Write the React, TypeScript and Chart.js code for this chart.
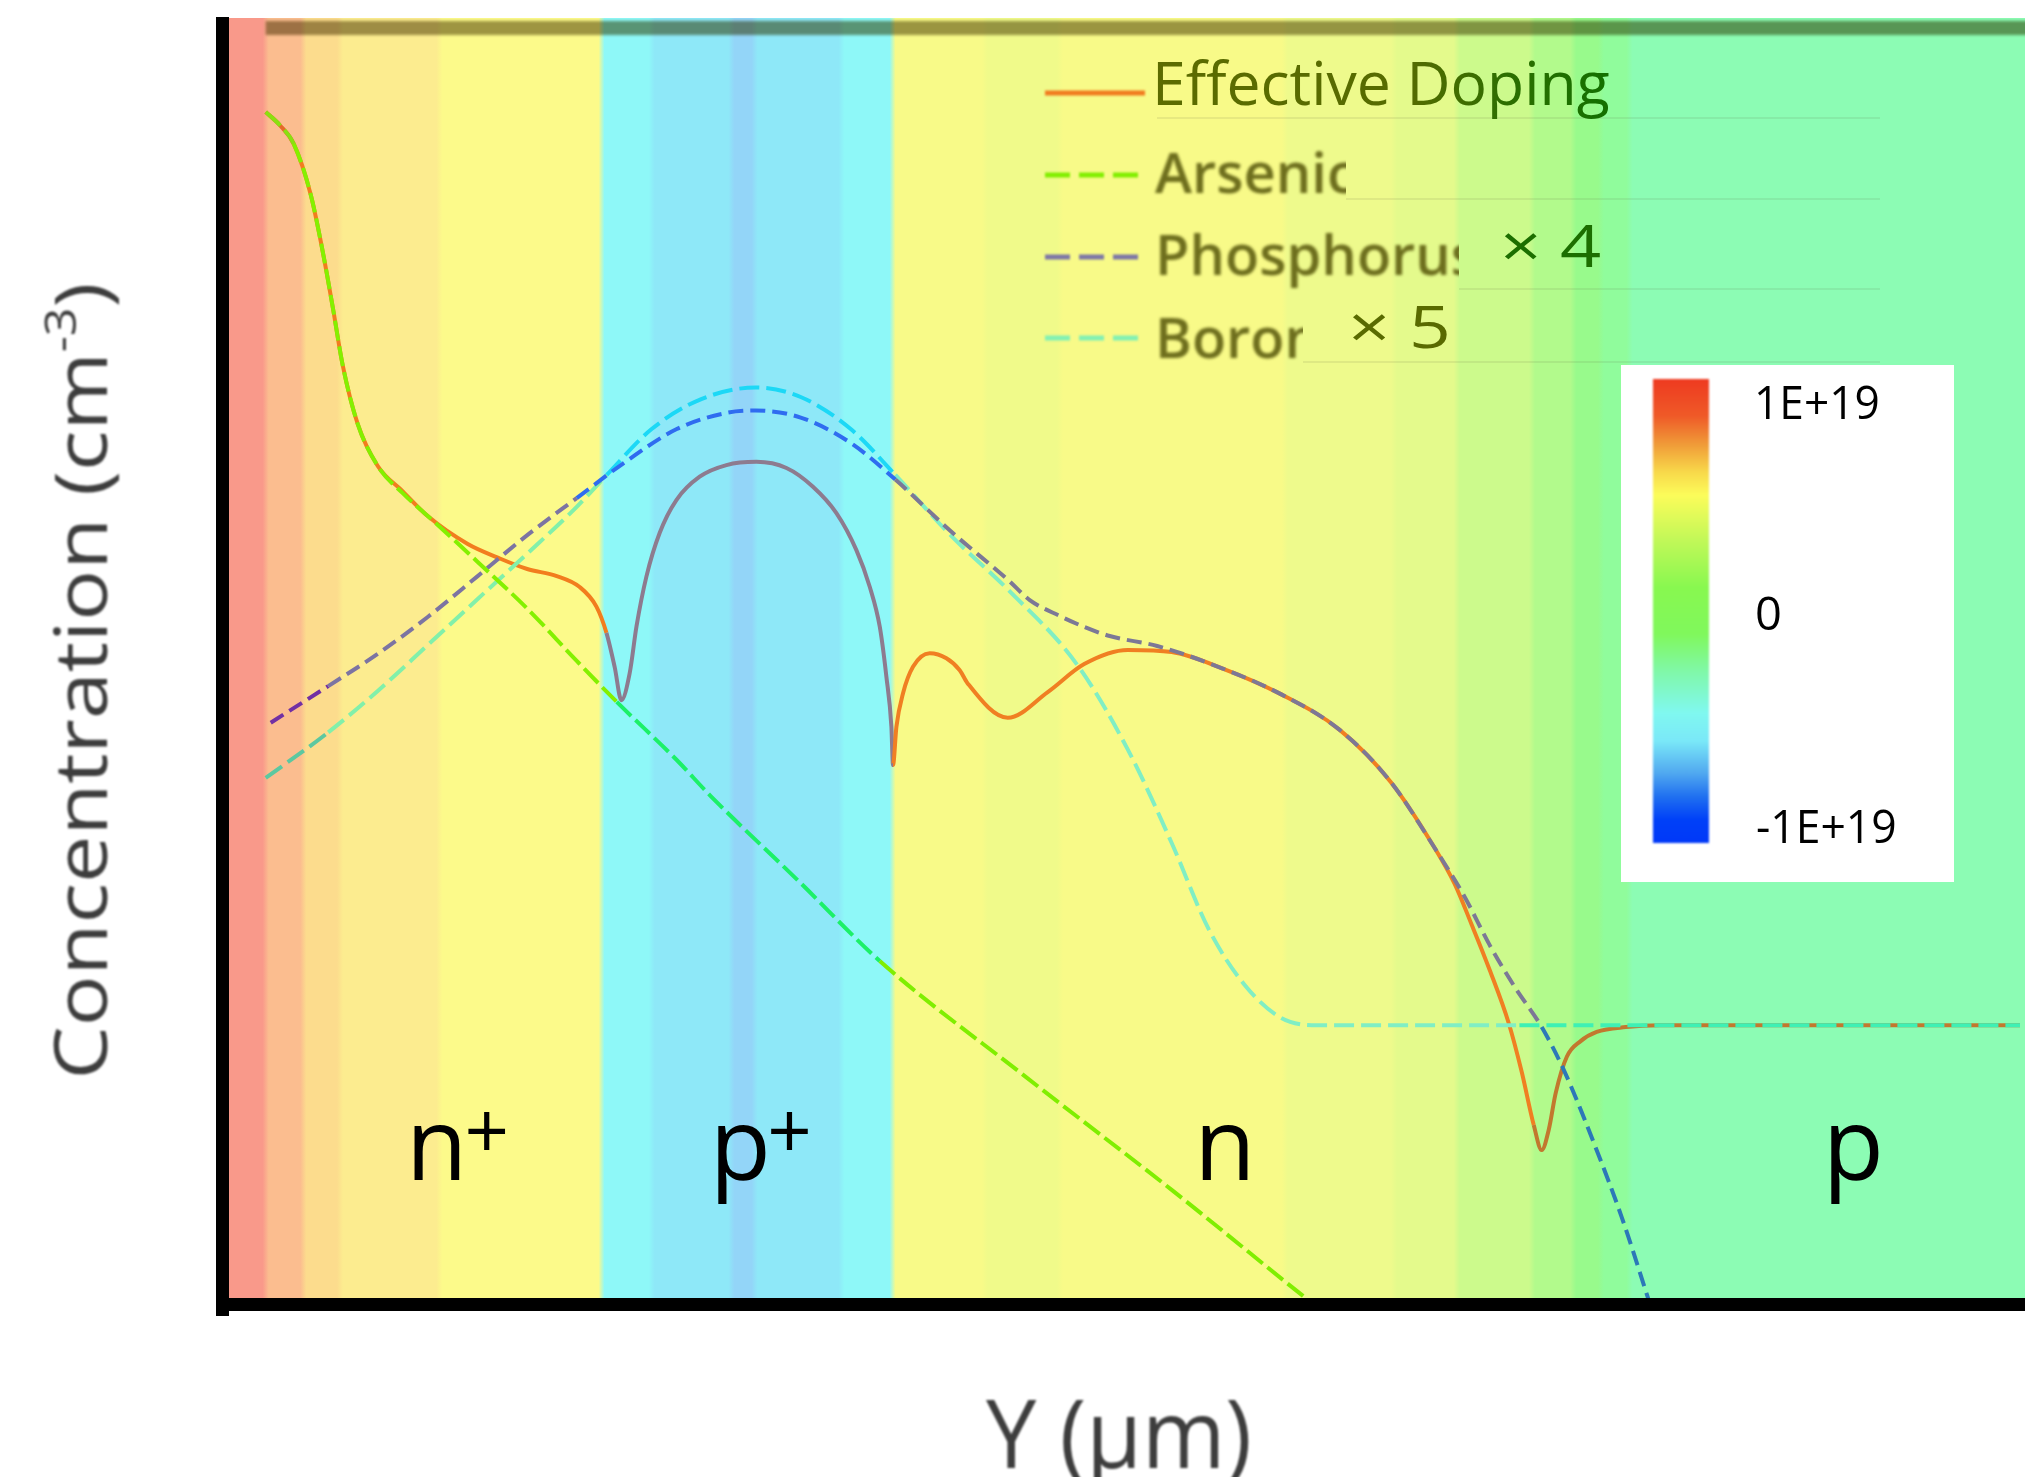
import { useEffect, useRef } from "react";
import { Chart, registerables } from "chart.js";

Chart.register(...registerables);

const FONT = '"Open Sans", "DejaVu Sans", Arial, sans-serif';

// ---- doping profiles: depth Y (µm) and concentration (cm^-3) ----
const effectiveDepth = [
  0, 0.0156, 0.0313, 0.0503, 0.0642, 0.0754, 0.086, 0.1027, 0.1251, 0.153,
  0.1809, 0.2256, 0.2591, 0.292, 0.325, 0.3506, 0.3693, 0.3805, 0.3897, 0.3972,
  0.4065, 0.414, 0.4251, 0.44, 0.4586, 0.4846, 0.5145, 0.548, 0.5815, 0.6108,
  0.6373, 0.6596, 0.6745, 0.6857, 0.6931, 0.6987, 0.7005, 0.7043, 0.7117, 0.7228,
  0.7415, 0.7601, 0.775, 0.7835, 0.8286, 0.8733, 0.914, 0.9626, 1.0117, 1.0687,
  1.1341, 1.1993, 1.2563, 1.3054, 1.3277, 1.3467, 1.3668, 1.388, 1.4026, 1.416,
  1.4249, 1.4327, 1.4405, 1.4528, 1.4684, 1.4863, 1.5187, 1.5567, 1.7, 1.959,
];
const effectiveConc = [
  3.06e20, 2.6e20, 2.05e20, 1.08e20, 5.12e19, 2.53e19, 1.26e19, 6.03e18, 3.55e18, 2.58e18,
  1.89e18, 1.33e18, 1.12e18, 9.7e17, 8.87e17, 7.73e17, 6.04e17, 4.34e17, 2.82e17, 1.86e17,
  2.62e17, 4.69e17, 8.81e17, 1.53e18, 2.31e18, 3.1e18, 3.59e18, 3.74e18, 3.46e18, 2.74e18,
  1.96e18, 1.23e18, 7.76e17, 4.69e17, 2.5e17, 1.33e17, 8.22e16, 1.33e17, 2.03e17, 2.83e17,
  3.36e17, 3.15e17, 2.71e17, 2.31e17, 1.49e17, 2.06e17, 2.93e17, 3.5e17, 3.41e17, 2.77e17,
  2.0e17, 1.28e17, 6.64e16, 2.89e16, 1.84e16, 1.1e16, 6.22e15, 3.19e15, 1.72e15, 8.83e14,
  6.44e14, 8.3e14, 1.32e15, 2.08e15, 2.54e15, 2.85e15, 3.03e15, 3.1e15, 3.1e15, 3.1e15,
];

const arsenicDepth = [
  0, 0.0156, 0.0313, 0.0503, 0.0642, 0.0754, 0.086, 0.1027, 0.1251, 0.153, 0.1921, 0.2367,
  0.2915, 0.3473, 0.392, 0.459, 0.4969, 0.5963, 0.6857, 0.8487, 1.0117, 1.158, 1.1993,
];
const arsenicConc = [
  3.06e20, 2.6e20, 2.05e20, 1.08e20, 5.12e19, 2.53e19, 1.26e19, 6.03e18, 3.55e18, 2.52e18, 1.69e18, 1.06e18,
  5.93e17, 3.05e17, 1.82e17, 8.75e16, 5.56e16, 1.88e16, 6.97e15, 1.62e15, 3.9e14, 1.03e14, 7.15e13,
];

const phosphorusDepth = [
  0.0056, 0.0698, 0.1251, 0.1809, 0.2367, 0.2931, 0.3473, 0.4031, 0.459, 0.5142, 0.5472, 0.5974,
  0.6533, 0.7031, 0.7638, 0.8297, 0.8532, 0.8867, 0.914, 0.9425, 0.9955, 1.0687, 1.1341, 1.1993,
  1.2563, 1.3054, 1.3389, 1.3668, 1.3948, 1.4249, 1.4495, 1.4863, 1.5142, 1.5433, 1.5589,
];
const phosphorusConc = [
  1.4e17, 2.22e17, 3.33e17, 5.3e17, 8.87e17, 1.5e18, 2.37e18, 3.78e18, 5.65e18, 6.92e18, 7.13e18, 6.53e18,
  4.74e18, 2.99e18, 1.58e18, 8.39e17, 6.56e17, 5.37e17, 4.68e17, 4.17e17, 3.68e17, 2.77e17, 2.0e17, 1.28e17,
  6.64e16, 2.89e16, 1.56e16, 8.51e15, 5.02e15, 3.03e15, 1.77e15, 6.43e14, 2.77e14, 1.01e14, 5.74e13,
];

const boronDepth = [
  0, 0.0698, 0.1251, 0.1809, 0.2367, 0.2931, 0.3473, 0.3808, 0.431, 0.4864, 0.5472, 0.5974, 0.6533,
  0.7031, 0.7638, 0.8297, 0.9056, 0.9626, 1.0117, 1.0526, 1.0932, 1.1341, 1.1748, 1.4, 1.7, 1.959,
];
const boronConc = [
  6.98e16, 1.24e17, 2.09e17, 3.72e17, 6.65e17, 1.19e18, 2.12e18, 3.17e18, 5.65e18, 8.24e18, 9.53e18, 8.46e18, 5.65e18,
  3.17e18, 1.5e18, 7.41e17, 2.93e17, 1.0e17, 3.08e16, 1.05e16, 5.15e15, 3.4e15, 3.1e15, 3.1e15, 3.1e15, 3.1e15,
];

const seriesLabels = ["Effective Doping", "Arsenic", "Phosphorus", "Boron"];

// net-doping colour bands along Y (µm)
const bandEdges = [
  -0.041, 0.0, 0.042, 0.083, 0.194, 0.375, 0.431, 0.52, 0.546, 0.643, 0.7,
  0.803, 0.887, 1.138, 1.26, 1.33, 1.414, 1.46, 1.491, 1.523, 1.959,
];
const bandColors = [
  "#f9998a", "#fbbd8f", "#fcdc8d", "#fcec8f", "#fcfa8a", "#8ef8f8", "#8ee8f8", "#93d5f8", "#8ee8f8", "#8ef8f8",
  "#f8fa88", "#f0fa8a", "#f8fa88", "#eefa8c", "#e4fa8c", "#ccfa8c", "#b2fa8c", "#98fa8c", "#90fc9c", "#8cfcb4",
];

// zones where the profile lines change tint: surface, n+, p+, n, p
const zoneEdges = [0.038, 0.375, 0.7, 1.414];
const effectiveTints = ["#e46a28", "#f27d1e", "#8d7b8f", "#f07f22", "#c2782e"];
const arsenicTints = ["#8ae010", "#84f000", "#1cf068", "#80ee00", "#60e840"];
const phosphorusTints = ["#7230a4", "#7c74a2", "#2f6cf0", "#7c7896", "#2c78b8"];
const boronTints = ["#5cc8a0", "#82f0aa", "#1cd8f6", "#80eec4", "#3ef0b4"];
const legendTints = ["#f07a1e", "#80ee00", "#7c76a6", "#80f0b4"];

// colour scale of the net doping
const colorbarOffsets = [0, 0.08, 0.14, 0.2, 0.25, 0.35, 0.45, 0.55, 0.63, 0.72, 0.78, 0.85, 0.9, 0.95, 1];
const colorbarColors = [
  "#ee3a20", "#ef5a28", "#f09a38", "#f8d84a", "#fcfc5a", "#c0f858", "#88f850", "#80f85c",
  "#80f8a8", "#80f8f0", "#7ae8f8", "#50a8f0", "#2070f0", "#0040f8", "#0038f8",
];
const colorbarTicks = ["1E+19", "0", "-1E+19"];

const regionNames = ["n", "p", "n", "p"];
const regionMarks = ["+", "+", "", ""];

const points = (xs: number[], ys: number[]) => xs.map((x, i) => ({ x, y: ys[i] }));

const tint = (colors: string[]) => (ctx: any) => {
  const xm = (ctx.p0.parsed.x + ctx.p1.parsed.x) / 2;
  let i = 0;
  while (i < zoneEdges.length && xm > zoneEdges[i]) i++;
  return colors[i];
};

// draws text so that its inked extent spans x0..x1
function fitText(ctx: CanvasRenderingContext2D, text: string, x0: number, x1: number, baseline: number) {
  ctx.textAlign = "left";
  const m = ctx.measureText(text);
  const vis = m.actualBoundingBoxLeft + m.actualBoundingBoxRight;
  const s = (x1 - x0) / vis;
  ctx.save();
  ctx.translate(x0, baseline);
  ctx.scale(s, 1);
  ctx.fillText(text, m.actualBoundingBoxLeft, 0);
  ctx.restore();
}

const decor = {
  id: "decor",
  beforeDraw(chart: any) {
    const { ctx, chartArea: a } = chart;
    const x = chart.scales.x;
    ctx.save();
    ctx.fillStyle = "#ffffff";
    ctx.fillRect(0, 0, chart.width, chart.height);

    const w = a.right - a.left;
    const g = ctx.createLinearGradient(a.left, 0, a.right, 0);
    const soft = 3;
    const clamp = (v: number) => Math.min(1, Math.max(0, v));
    for (let i = 0; i < bandColors.length; i++) {
      const p0 = x.getPixelForValue(bandEdges[i]);
      const p1 = x.getPixelForValue(bandEdges[i + 1]);
      const s0 = clamp((p0 + (i === 0 ? 0 : soft) - a.left) / w);
      const s1 = clamp((p1 - (i === bandColors.length - 1 ? 0 : soft) - a.left) / w);
      g.addColorStop(s0, bandColors[i]);
      g.addColorStop(s1, bandColors[i]);
    }
    ctx.fillStyle = g;
    ctx.fillRect(a.left, a.top, chart.width - a.left, a.bottom - a.top);

    // shaded frame along the top edge
    const sx = x.getPixelForValue(0);
    ctx.globalCompositeOperation = "multiply";
    ctx.filter = "blur(1.5px)";
    ctx.fillStyle = "rgb(160,152,120)";
    ctx.fillRect(sx, 21, chart.width - sx + 10, 14);
    ctx.restore();
  },
  afterDatasetsDraw(chart: any) {
    const { ctx, chartArea: a } = chart;
    const x = chart.scales.x;
    ctx.save();

    // axes
    ctx.fillStyle = "#000";
    ctx.fillRect(216, 17, 13, 1299);
    ctx.fillRect(216, a.bottom, chart.width - 216, 13);

    // axis titles
    ctx.filter = "blur(1.1px)";
    ctx.fillStyle = "#3d3d3d";
    ctx.save();
    ctx.translate(107, 681);
    ctx.rotate(-Math.PI / 2);
    ctx.textAlign = "left";
    ctx.textBaseline = "alphabetic";
    const main = "Concentration (cm";
    const sup = "-3";
    const close = ")";
    ctx.font = `74px ${FONT}`;
    const w1 = ctx.measureText(main).width;
    const w3 = ctx.measureText(close).width;
    ctx.font = `44px ${FONT}`;
    const w2 = ctx.measureText(sup).width;
    const total = w1 + w2 + w3;
    const sc = 797 / total;
    ctx.scale(sc, 1);
    const start = -total / 2;
    ctx.font = `74px ${FONT}`;
    ctx.fillText(main, start, 0);
    ctx.fillText(close, start + w1 + w2, 0);
    ctx.font = `44px ${FONT}`;
    ctx.fillText(sup, start + w1, -31);
    ctx.restore();

    ctx.font = `95px ${FONT}`;
    fitText(ctx, "Y (µm)", 986, 1249, 1468);
    ctx.filter = "none";

    // region labels
    ctx.fillStyle = "#000";
    const regionCentres = [0.191, 0.53, 1.071, 1.773];
    const markCentres = [0.247, 0.585];
    regionNames.forEach((name, i) => {
      ctx.font = `100px ${FONT}`;
      ctx.textAlign = "center";
      ctx.fillText(name, x.getPixelForValue(regionCentres[i]), 1180);
      if (regionMarks[i]) {
        ctx.font = `78px ${FONT}`;
        const m = ctx.measureText(regionMarks[i]);
        const base = 1131 + (m.actualBoundingBoxAscent - m.actualBoundingBoxDescent) / 2;
        ctx.fillText(regionMarks[i], x.getPixelForValue(markCentres[i]), base);
      }
    });

    // legend
    const rows = [93, 175, 257, 338];
    ctx.filter = "blur(0.8px)";
    rows.forEach((y, i) => {
      ctx.beginPath();
      ctx.strokeStyle = legendTints[i];
      ctx.lineWidth = 5;
      ctx.setLineDash(i === 0 ? [] : [25, 9]);
      ctx.moveTo(1045, y);
      ctx.lineTo(1145, y);
      ctx.stroke();
    });
    ctx.setLineDash([]);
    ctx.filter = "none";

    // faint seams beside the labels
    ctx.strokeStyle = "rgba(90,90,60,0.1)";
    ctx.lineWidth = 2;
    [[1157, 118], [1346, 199], [1459, 289], [1303, 362]].forEach(([x0, y]) => {
      ctx.beginPath();
      ctx.moveTo(x0, y);
      ctx.lineTo(1880, y);
      ctx.stroke();
    });

    // "Effective Doping" label
    ctx.save();
    ctx.font = `60px ${FONT}`;
    ctx.textAlign = "left";
    const lm = ctx.measureText(seriesLabels[0]);
    const ls = (1609 - 1157) / (lm.actualBoundingBoxLeft + lm.actualBoundingBoxRight);
    ctx.translate(1157, 105);
    ctx.scale(ls, 1);
    const lg = ctx.createLinearGradient(0, 0, (1609 - 1157) / ls, 0);
    lg.addColorStop(0, "#5c6b00");
    lg.addColorStop(0.55, "#566b00");
    lg.addColorStop(0.78, "#2c6e00");
    lg.addColorStop(1, "#127000");
    ctx.fillStyle = lg;
    ctx.fillText(seriesLabels[0], lm.actualBoundingBoxLeft, 0);
    ctx.restore();

    // other series labels, partly hidden by their patches
    const clipAt = [1346, 1459, 1303];
    const bases = [193, 275, 358];
    ctx.filter = "blur(1.4px)";
    ctx.fillStyle = "rgba(98,98,20,0.92)";
    ctx.font = `600 56px ${FONT}`;
    ctx.textAlign = "left";
    for (let i = 1; i < 4; i++) {
      ctx.save();
      ctx.beginPath();
      ctx.rect(1100, bases[i - 1] - 70, clipAt[i - 1] - 1100, 100);
      ctx.clip();
      ctx.fillText(seriesLabels[i], 1155, bases[i - 1]);
      ctx.restore();
    }
    ctx.filter = "none";

    ctx.font = `58px ${FONT}`;
    ctx.fillStyle = "#1c6e00";
    fitText(ctx, "× 4", 1504, 1601, 267);
    ctx.fillStyle = "#596a00";
    fitText(ctx, "× 5", 1352, 1447, 348);

    // colour scale
    ctx.fillStyle = "#ffffff";
    ctx.fillRect(1621, 365, 333, 517);
    const cg = ctx.createLinearGradient(0, 379, 0, 843);
    colorbarOffsets.forEach((o, i) => cg.addColorStop(o, colorbarColors[i]));
    ctx.filter = "blur(1px)";
    ctx.fillStyle = cg;
    ctx.fillRect(1653, 379, 56, 464);
    ctx.filter = "none";
    ctx.fillStyle = "#000";
    ctx.font = `45px ${FONT}`;
    fitText(ctx, colorbarTicks[0], 1758, 1878, 419);
    fitText(ctx, colorbarTicks[1], 1757, 1780, 630);
    fitText(ctx, colorbarTicks[2], 1757, 1895, 843);

    ctx.restore();
  },
};

export default function App() {
  const canvasRef = useRef<HTMLCanvasElement | null>(null);

  useEffect(() => {
    document.body.style.margin = "0";
    document.body.style.overflow = "hidden";
    const canvas = canvasRef.current;
    if (!canvas) return;
    const line = (label: string, xs: number[], ys: number[], tints: string[], dash: number[], order: number) => ({
      label,
      data: points(xs, ys),
      borderColor: tints[1],
      borderWidth: 4,
      borderDash: dash,
      pointRadius: 0,
      cubicInterpolationMode: "monotone" as const,
      fill: false,
      order,
      segment: { borderColor: tint(tints) },
    });
    const chart = new Chart(canvas, {
      type: "line",
      data: {
        datasets: [
          line(seriesLabels[1], arsenicDepth, arsenicConc, arsenicTints, [20, 6], 1),
          line(seriesLabels[2], phosphorusDepth, phosphorusConc, phosphorusTints, [15, 7], 2),
          line(seriesLabels[3], boronDepth, boronConc, boronTints, [20, 7], 3),
          line(seriesLabels[0], effectiveDepth, effectiveConc, effectiveTints, [], 4),
        ],
      },
      options: {
        animation: false,
        responsive: false,
        devicePixelRatio: 1,
        layout: { padding: { left: 229, right: 5, top: 18, bottom: 179 } },
        scales: {
          x: { type: "linear", min: -0.041, max: 1.959, display: false },
          y: { type: "logarithmic", min: 1e14, max: 1e21, display: false },
        },
        plugins: { legend: { display: false }, tooltip: { enabled: false } },
      },
      plugins: [decor],
    });
    return () => chart.destroy();
  }, []);

  return (
    <canvas
      ref={canvasRef}
      width={2025}
      height={1477}
      style={{ display: "block", position: "absolute", left: 0, top: 0 }}
    />
  );
}
